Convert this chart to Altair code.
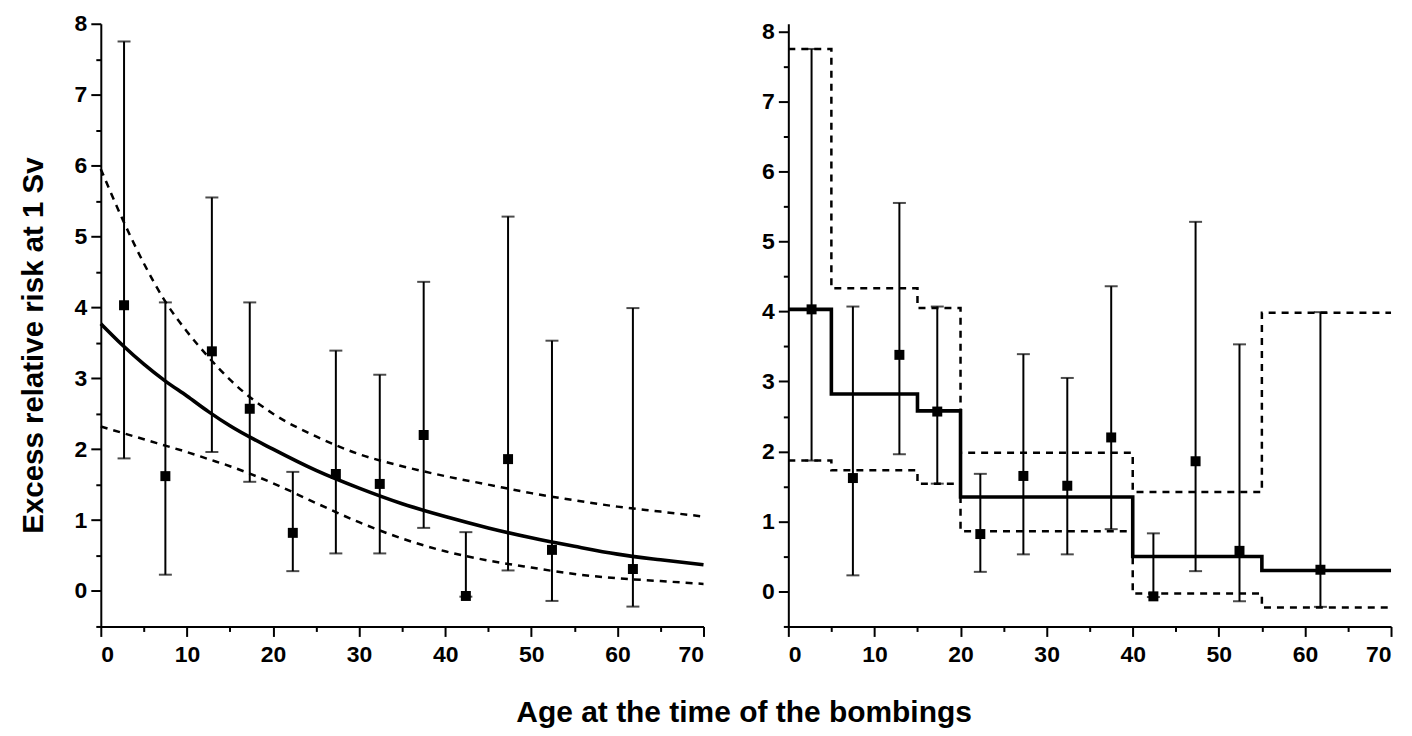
import altair as alt
import pandas as pd

# ---- data ----
ages = [2.7, 7.5, 12.9, 17.3, 22.3, 27.3, 32.4, 37.5, 42.4, 47.3, 52.4, 61.8]
err_mid = [4.03, 1.62, 3.38, 2.57, 0.82, 1.65, 1.51, 2.20, -0.07, 1.86, 0.58, 0.31]
err_low = [1.87, 0.23, 1.96, 1.54, 0.28, 0.53, 0.53, 0.89, -0.08, 0.29, -0.14, -0.22]
err_high = [7.75, 4.07, 5.55, 4.07, 1.68, 3.39, 3.05, 4.36, 0.83, 5.28, 3.53, 3.99]

fit_age = [0, 2.5, 5, 7.5, 10, 12.5, 15, 20, 25, 30, 35, 40, 45, 50, 55, 60, 65, 70]
fit_central = [3.77, 3.47, 3.20, 2.96, 2.75, 2.53, 2.33, 2.00, 1.70, 1.45, 1.23, 1.05, 0.89, 0.75, 0.63, 0.52, 0.44, 0.37]
fit_upper = [5.95, 5.25, 4.62, 4.08, 3.66, 3.30, 2.98, 2.50, 2.18, 1.93, 1.76, 1.62, 1.50, 1.38, 1.28, 1.19, 1.12, 1.05]
fit_lower = [2.32, 2.23, 2.14, 2.05, 1.96, 1.86, 1.76, 1.52, 1.24, 0.97, 0.74, 0.56, 0.43, 0.33, 0.24, 0.18, 0.14, 0.10]

step_age = [0, 5, 15, 20, 40, 55, 70]
step_central = [4.03, 2.82, 2.58, 1.35, 0.50, 0.30, 0.30]
step_upper = [7.75, 4.33, 4.05, 1.98, 1.42, 3.98, 3.98]
step_lower = [1.87, 1.73, 1.54, 0.86, -0.03, -0.23, -0.23]

x_ticks = list(range(0, 71, 5))
y_ticks = [v / 2 for v in range(-1, 17)]

FONT = "Liberation Sans"

pts = pd.DataFrame({"age": ages, "err": err_mid, "lo": err_low, "hi": err_high})
fit = pd.DataFrame({"age": fit_age, "c": fit_central, "u": fit_upper, "l": fit_lower})
step = pd.DataFrame({"age": step_age, "c": step_central, "u": step_upper, "l": step_lower})

AX = dict(
    grid=False,
    domainColor="black",
    domainWidth=2,
    tickColor="black",
    tickWidth=2,
    labelFont=FONT,
    labelFontSize=23,
    labelFontWeight="bold",
    labelColor="black",
    titleFont=FONT,
    titleFontSize=29.5,
    titleFontWeight="bold",
    titleColor="black",
)


def panel(ydom, ytitle, curves, interp):
    xaxis = alt.Axis(
        values=x_ticks,
        labelExpr="datum.value % 10 === 0 ? format(datum.value, 'd') : ''",
        tickSize={"condition": {"test": "datum.value % 10 === 0", "value": 10}, "value": 5},
        title="",
        labelPadding=7,
        **AX,
    )
    yaxis_kw = dict(
        values=y_ticks,
        labelExpr="datum.value % 1 === 0 ? format(datum.value, 'd') : ''",
        tickSize={"condition": {"test": "datum.value % 1 === 0", "value": 10}, "value": 5},
        labelPadding=4,
        **AX,
    )
    if ytitle:
        yaxis = alt.Axis(title=ytitle, titlePadding=26, titleY=322, **yaxis_kw)
    else:
        yaxis = alt.Axis(title="", **yaxis_kw)
    xs = alt.Scale(domain=[0, 70], nice=False, zero=False)
    ys = alt.Scale(domain=ydom, nice=False, zero=False)

    X = alt.X("age:Q", scale=xs, axis=xaxis)

    base_pts = alt.Chart(pts)
    rule = base_pts.mark_rule(color="black", strokeWidth=2).encode(
        x=X, y=alt.Y("lo:Q", scale=ys, axis=yaxis), y2="hi:Q")
    cap_lo = base_pts.mark_tick(color="black", orient="horizontal", size=13, thickness=2).encode(
        x=X, y=alt.Y("lo:Q", scale=ys, axis=yaxis))
    cap_hi = base_pts.mark_tick(color="black", orient="horizontal", size=13, thickness=2).encode(
        x=X, y=alt.Y("hi:Q", scale=ys, axis=yaxis))
    dots = base_pts.mark_point(shape="square", filled=True, color="black", size=100, opacity=1).encode(
        x=X, y=alt.Y("err:Q", scale=ys, axis=yaxis))

    base_c = alt.Chart(curves)
    upper = base_c.mark_line(color="black", strokeWidth=2.5, strokeDash=[7, 6], interpolate=interp).encode(
        x=X, y=alt.Y("u:Q", scale=ys, axis=yaxis))
    lower = base_c.mark_line(color="black", strokeWidth=2.5, strokeDash=[7, 6], interpolate=interp).encode(
        x=X, y=alt.Y("l:Q", scale=ys, axis=yaxis))
    central = base_c.mark_line(color="black", strokeWidth=3.6, interpolate=interp).encode(
        x=X, y=alt.Y("c:Q", scale=ys, axis=yaxis))

    return alt.layer(rule, cap_lo, cap_hi, upper, lower, central, dots).properties(width=604, height=604)


left = panel([-0.5, 8], "Excess relative risk at 1 Sv", fit, "monotone")
right = panel([-0.5, 8.11], None, step, "step-after")

chart = alt.hconcat(left, right, spacing=50).properties(
    title=alt.TitleParams(
        "Age at the time of the bombings",
        orient="bottom",
        anchor="middle",
        font=FONT,
        fontSize=30,
        fontWeight="bold",
        color="black",
        offset=32,
        dx=36,
    ),
    padding={"left": 10, "top": 4, "right": 5, "bottom": 5},
    background="white",
).configure_view(strokeWidth=0)

chart.save("out.html", embed_options={"renderer": "svg", "actions": False})
